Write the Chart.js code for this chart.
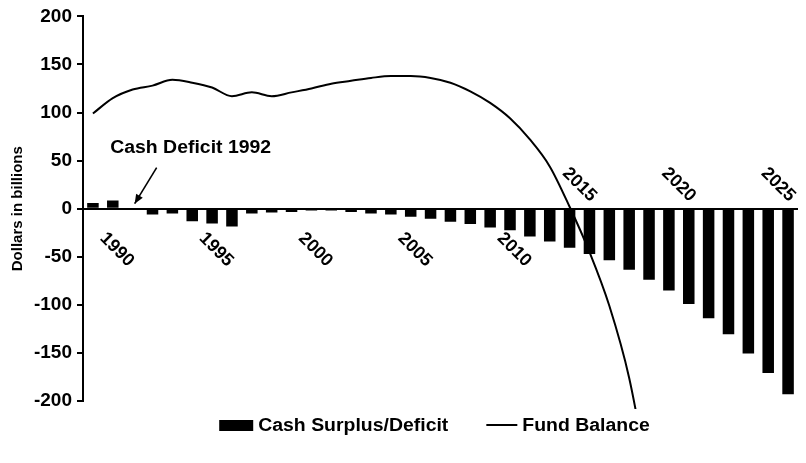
<!DOCTYPE html>
<html>
<head>
<meta charset="utf-8">
<script src="https://cdn.jsdelivr.net/npm/chart.js@4.4.0/dist/chart.umd.min.js"></script>
<style>
  html, body { margin: 0; padding: 0; background: #fff; }
</style>
</head>
<body>
<canvas id="chart" width="806" height="463"></canvas>
<script>
const years = ["1990", "1991", "1992", "1993", "1994", "1995", "1996", "1997", "1998", "1999",
  "2000", "2001", "2002", "2003", "2004", "2005", "2006", "2007", "2008", "2009",
  "2010", "2011", "2012", "2013", "2014", "2015", "2016", "2017", "2018", "2019",
  "2020", "2021", "2022", "2023", "2024", "2025"];

const yearLabels = ["1990", "1995", "2000", "2005", "2010", "2015", "2020", "2025"];

// cash surplus / deficit, billions
const cashSurplus = [6, 8.5, -1, -6, -5, -13, -15.5, -18.5, -5, -4,
  -3.5, -2, -2, -3.5, -5, -6, -8.5, -10.5, -13.5, -16,
  -19.5, -22.5, -29, -34, -40.5, -47, -53.5, -63.5, -74, -85,
  -99, -114, -130.5, -150.5, -171, -193];

// fund balance, runs off the bottom after 2017
const fundBalance = [99, 115, 124, 128, 134, 131, 126, 117, 121, 117,
  121, 125, 130, 133, 136, 138, 138, 136, 131, 122,
  110, 94, 72, 44, 2, -45, -101, -176, -285, null,
  null, null, null, null, null, null];

const yTickMin = -200;
const yTickMax = 200;
const yTickStep = 50;

const FONT = "'Liberation Sans', Arial, sans-serif";

function stretchedText(ctx, text, x, y, align, sx) {
  ctx.save();
  ctx.translate(x, y);
  ctx.scale(sx, 1);
  ctx.textAlign = align;
  ctx.fillText(text, 0, 0);
  ctx.restore();
}

const extras = {
  id: "extras",
  afterDraw(chart) {
    const ctx = chart.ctx;
    const xs = chart.scales.x;
    const ys = chart.scales.y;
    const zero = ys.getPixelForValue(0);
    const area = chart.chartArea;

    ctx.save();
    ctx.fillStyle = "#000";
    ctx.strokeStyle = "#000";
    ctx.textBaseline = "middle";

    // rotated year labels, below the zero line early, above it once bars get long
    ctx.font = "bold 18px " + FONT;
    yearLabels.forEach((lab) => {
      const i = years.indexOf(lab);
      const x = xs.getPixelForValue(i);
      let cx, cy;
      if (cashSurplus[i] < -30) {
        cx = x - 10; cy = zero - 24;
      } else {
        cx = x + 24; cy = zero + 41;
      }
      ctx.save();
      ctx.translate(cx, cy);
      ctx.rotate(Math.PI / 4);
      ctx.textAlign = "center";
      ctx.fillText(lab, 0, 0);
      ctx.restore();
    });

    // "Cash Deficit 1992" note with arrow
    const i92 = years.indexOf("1992");
    const ax = xs.getPixelForValue(i92);
    ctx.font = "bold 18px " + FONT;
    stretchedText(ctx, "Cash Deficit 1992", ax + 58, zero - 61, "center", 1.08);
    const tipX = ax + 2, tipY = zero - 5;
    const tailX = ax + 24, tailY = zero - 41;
    ctx.lineWidth = 1.6;
    ctx.beginPath();
    ctx.moveTo(tailX, tailY);
    ctx.lineTo(tipX, tipY);
    ctx.stroke();
    const ang = Math.atan2(tipY - tailY, tipX - tailX);
    ctx.beginPath();
    ctx.moveTo(tipX, tipY);
    ctx.lineTo(tipX - 10 * Math.cos(ang - 0.4), tipY - 10 * Math.sin(ang - 0.4));
    ctx.lineTo(tipX - 10 * Math.cos(ang + 0.4), tipY - 10 * Math.sin(ang + 0.4));
    ctx.closePath();
    ctx.fill();

    // legend
    const sx = 1.08;
    ctx.font = "bold 18px " + FONT;
    const t1 = chart.data.datasets[0].label;
    const t2 = chart.data.datasets[1].label;
    const w1 = ctx.measureText(t1).width * sx;
    const w2 = ctx.measureText(t2).width * sx;
    const total = 34 + 5 + w1 + 38 + 31 + 5 + w2;
    let lx = (area.left + area.right) / 2 - 6 - total / 2;
    const ly = 425;
    ctx.fillRect(lx, ly - 5, 34, 11);
    lx += 39;
    stretchedText(ctx, t1, lx, ly + 1, "left", sx);
    lx += w1 + 38;
    ctx.lineWidth = 2;
    ctx.beginPath();
    ctx.moveTo(lx, ly);
    ctx.lineTo(lx + 31, ly);
    ctx.stroke();
    lx += 36;
    stretchedText(ctx, t2, lx, ly + 1, "left", sx);

    ctx.restore();
  }
};

new Chart(document.getElementById("chart"), {
  data: {
    labels: years,
    datasets: [
      {
        type: "bar",
        label: "Cash Surplus/Deficit",
        data: cashSurplus,
        backgroundColor: "#000",
        barPercentage: 0.58,
        categoryPercentage: 1,
        order: 2
      },
      {
        type: "line",
        label: "Fund Balance",
        data: fundBalance,
        borderColor: "#000",
        borderWidth: 2,
        pointRadius: 0,
        fill: false,
        cubicInterpolationMode: "monotone",
        clip: { left: 0, top: 0, right: 0, bottom: 8 },
        order: 1
      }
    ]
  },
  options: {
    responsive: false,
    animation: false,
    devicePixelRatio: 1,
    layout: { padding: { top: 4, right: 8, bottom: 62, left: 0 } },
    plugins: {
      legend: { display: false },
      tooltip: { enabled: false }
    },
    scales: {
      x: { display: false },
      y: {
        min: yTickMin,
        max: yTickMax,
        ticks: {
          stepSize: yTickStep,
          color: "#000",
          padding: 5,
          font: { family: FONT, size: 19, weight: "bold" }
        },
        grid: {
          color: (c) => (c.tick && c.tick.value === 0 ? "#000" : "rgba(0,0,0,0)"),
          lineWidth: 2,
          tickColor: "#000",
          tickLength: 6,
          tickWidth: 2
        },
        border: { color: "#000", width: 2 },
        title: {
          display: true,
          text: "Dollars in billions",
          color: "#000",
          font: { family: FONT, size: 15, weight: "bold" },
          padding: { top: 9, bottom: 0 }
        },
        afterFit: (s) => { s.width = 83; }
      }
    }
  },
  plugins: [extras]
});
</script>
</body>
</html>
